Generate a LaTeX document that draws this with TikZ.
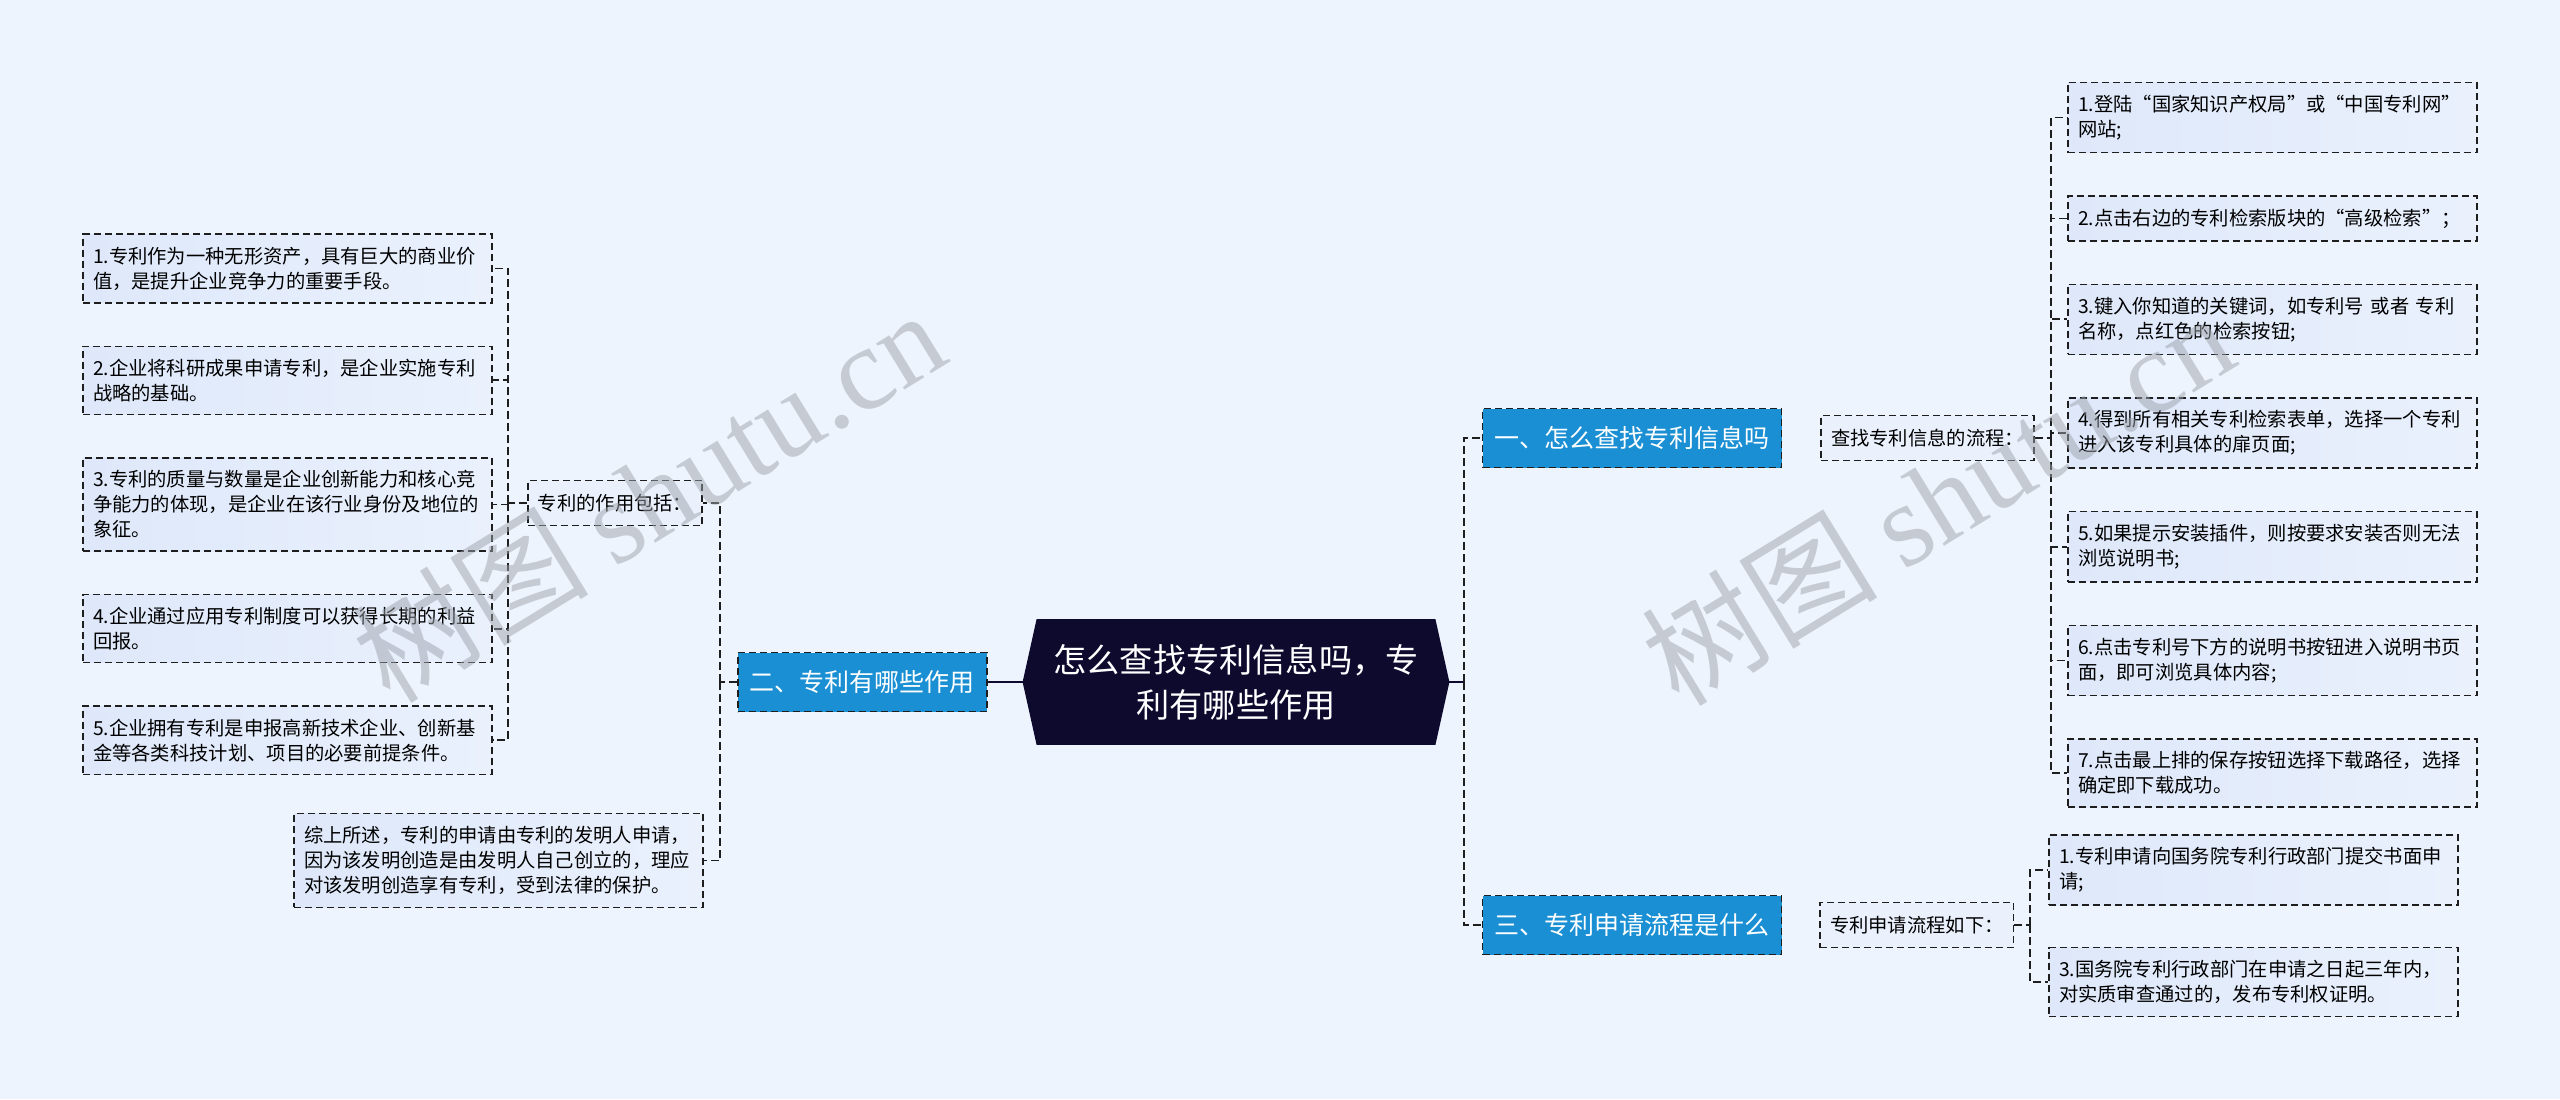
\documentclass[tikz,border=0pt]{standalone}
\usepackage{fontspec}
\setmainfont{Noto Sans CJK SC}
\newfontfamily\marklatin{Liberation Serif}
\usetikzlibrary{positioning, backgrounds}

\definecolor{bgcol}{HTML}{EEF4FD}
\definecolor{rootcol}{HTML}{0D0A2E}
\definecolor{branchcol}{HTML}{1A8FD3}
\definecolor{leafl}{HTML}{DEE8FA}
\definecolor{leafr}{HTML}{EAF1FD}
\definecolor{linecol}{HTML}{1E1E1E}
\definecolor{markcol}{HTML}{9DA2AB}
\newcommand{\leaffont}{\fontsize{9.65pt}{12.5pt}\selectfont}

\begin{document}
\begin{tikzpicture}[
  x=0.5pt, y=-0.5pt,
  node distance=21pt,
  root/.style={minimum width=199pt, minimum height=62.5pt, inner sep=0pt, align=center, text=white, font=\fontsize{16.6pt}{22.5pt}\selectfont},
  branch/.style={rectangle, draw=linecol, fill=branchcol, line width=0.75pt, dash pattern=on 3.5pt off 2pt, text=white, minimum height=29.5pt, inner xsep=6pt, font=\fontsize{12.5pt}{15pt}\selectfont},
  sub/.style={rectangle, draw=linecol, fill=leafr, line width=0.75pt, dash pattern=on 3.5pt off 2pt, minimum height=22.5pt, inner xsep=5pt, font=\leaffont},
  leaf/.style={rectangle, draw=linecol, left color=leafl, right color=leafr, line width=0.75pt, dash pattern=on 3.5pt off 2pt, text width=194.5pt, inner xsep=5pt, inner ysep=6.3pt, align=left, font=\leaffont},
  link/.style={draw=linecol, line width=0.9pt, dash pattern=on 4pt off 2pt},
  trunk/.style={draw=rootcol, line width=1.2pt},
  wmark/.style={rotate=31.5, text=markcol, opacity=0.5, font=\fontsize{59pt}{59pt}\selectfont}
]
\useasboundingbox (0,0) rectangle (2560,1099);
\begin{scope}[on background layer]
  \fill[bgcol] (0,0) rectangle (2560,1099);
\end{scope}

% centre and main branches
\node[root] (root) at (1236,682) {怎么查找专利信息吗，专\\利有哪些作用};
\begin{scope}[on background layer]
  \fill[rootcol] ([xshift=-7pt]root.west) -- (root.north west) -- (root.north east)
    -- ([xshift=7pt]root.east) -- (root.south east) -- (root.south west) -- cycle;
\end{scope}
\node[branch, left=24.5pt of root] (b2) {二、专利有哪些作用};
\node[branch] (b1) at (1632,438) {一、怎么查找专利信息吗};
\node[branch] (b3) at (1632,925) {三、专利申请流程是什么};

% second level
\node[sub, right=19pt of b1] (s1) {查找专利信息的流程：};
\node[sub, right=18.5pt of b3] (s3) {专利申请流程如下：};
\node[sub] (s2) at (615,503) {专利的作用包括：};
\node[leaf] (sum) at (498.5,860.5) {综上所述，专利的申请由专利的发明人申请，\\因为该发明创造是由发明人自己创立的，理应\\对该发明创造享有专利，受到法律的保护。};

% left leaves
\node[leaf] (a1) at (287.5,268.5) {1.专利作为一种无形资产，具有巨大的商业价\\值，是提升企业竞争力的重要手段。};
\node[leaf, below=of a1] (a2) {2.企业将科研成果申请专利，是企业实施专利\\战略的基础。};
\node[leaf, below=of a2] (a3) {3.专利的质量与数量是企业创新能力和核心竞\\争能力的体现，是企业在该行业身份及地位的\\象征。};
\node[leaf, below=of a3] (a4) {4.企业通过应用专利制度可以获得长期的利益\\回报。};
\node[leaf, below=of a4] (a5) {5.企业拥有专利是申报高新技术企业、创新基\\金等各类科技计划、项目的必要前提条件。};

% right leaves
\node[leaf] (r1) at (2272.5,117.5) {1.登陆“国家知识产权局”或“中国专利网”\\网站;};
\node[leaf, below=of r1] (r2) {2.点击右边的专利检索版块的“高级检索”；};
\node[leaf, below=of r2] (r3) {3.键入你知道的关键词，如专利号 或者 专利\\名称，点红色的检索按钮;};
\node[leaf, below=of r3] (r4) {4.得到所有相关专利检索表单，选择一个专利\\进入该专利具体的扉页面;};
\node[leaf, below=of r4] (r5) {5.如果提示安装插件，则按要求安装否则无法\\浏览说明书;};
\node[leaf, below=of r5] (r6) {6.点击专利号下方的说明书按钮进入说明书页\\面，即可浏览具体内容;};
\node[leaf, below=of r6] (r7) {7.点击最上排的保存按钮选择下载路径，选择\\确定即下载成功。};
\node[leaf] (c1) at (2253.5,870) {1.专利申请向国务院专利行政部门提交书面申\\请;};
\node[leaf, below=20.5pt of c1] (c2) {3.国务院专利行政部门在申请之日起三年内，\\对实质审查通过的，发布专利权证明。};

% connectors
\coordinate (jl) at (720,682);
\coordinate (ja) at (508,503);
\coordinate (jr) at (1464,682);
\coordinate (jb1) at (2051,438);
\coordinate (jb3) at (2030,925);
\draw[trunk] (root) -- (b2);
\draw[trunk] (root) -- (jr);
\draw[link] (jr) |- (b1);
\draw[link] (jr) |- (b3);
\draw[link] (b2) -- (jl);
\draw[link] (jl) |- (s2);
\draw[link] (jl) |- (sum);
\draw[link] (s2) -- (ja);
\foreach \i in {1,...,5}
  \draw[link] (ja) |- (a\i);
\draw[link] (s1) -- (jb1);
\foreach \i in {1,...,7}
  \draw[link] (jb1) |- (r\i);
\draw[link] (s3) -- (jb3);
\foreach \i in {1,2}
  \draw[link] (jb3) |- (c\i);

% watermarks
\node[wmark] (m1) at (648,495) {树图 {\marklatin shutu.cn}};
\node[wmark] (m2) at (1937,498) {树图 {\marklatin shutu.cn}};
\end{tikzpicture}
\end{document}
